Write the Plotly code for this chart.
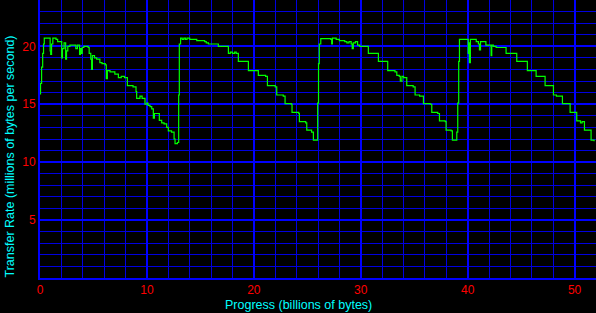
import plotly.graph_objects as go

# Progress (billions of bytes) and transfer rate (millions of bytes per second)
progress = [
    0.00, 0.05, 0.15, 0.25, 0.33, 0.40, 0.95, 1.00, 1.08, 1.20, 1.50, 1.65, 1.95,
    2.03, 2.10, 2.25, 2.40, 2.48, 2.60, 2.80, 3.20, 3.35, 3.50, 3.70, 3.78, 3.85,
    3.95, 4.10, 4.50, 4.60, 4.75, 4.83, 4.90, 5.10, 5.30, 5.60, 5.80, 6.10, 6.20,
    6.30, 6.55, 7.00, 7.33, 7.60, 7.90, 8.17, 8.70, 8.98, 9.04, 9.35, 9.55, 9.82,
    10.00, 10.10, 10.29, 10.45, 10.60, 10.70, 11.16, 11.38, 11.60, 11.85, 12.00,
    12.30, 12.54, 12.63, 12.85, 12.97, 13.03, 13.15,
    13.30, 13.45, 13.60, 13.75, 14.00, 14.66, 15.40, 15.55, 15.75, 16.68, 17.62,
    17.80, 18.00, 18.20, 18.35, 18.55, 19.49, 20.20, 20.42, 21.10, 21.27, 22.00,
    22.14, 22.75, 22.92, 23.50, 23.57, 24.20, 24.26, 24.85, 24.95, 25.40, 25.57,
    25.97, 26.05, 26.12, 26.26,
    27.20, 27.28, 27.35, 27.70, 28.00, 28.50, 28.70, 28.90, 29.10, 29.20, 29.30,
    29.50, 29.70, 29.90, 30.20, 30.71, 31.65, 32.52, 33.20, 33.37, 33.60, 33.70,
    33.85, 34.00, 34.30, 34.90, 35.08, 35.50, 35.86, 36.50, 36.64, 37.20, 37.36,
    37.90, 37.98, 38.45, 38.57, 38.98, 39.07, 39.16, 39.23,
    39.95, 40.05, 40.10, 40.16, 40.25, 40.60, 40.80, 41.00, 41.10, 41.20, 41.50,
    41.70, 42.00, 42.19, 42.25, 42.40, 42.66, 43.59, 44.59, 45.58, 46.40, 47.24,
    48.02, 48.30, 48.86, 49.58, 50.20, 50.55, 50.70, 50.92, 51.54, 51.82,
]
rate = [
    15.9, 16.8, 18.2, 19.4, 20.2, 20.7, 19.6, 19.3, 20.2, 20.7, 20.6, 20.4, 20.4,
    19.0, 19.8, 20.3, 18.9, 19.6, 20.0, 20.1, 20.1, 19.8, 20.1, 19.3, 19.8, 19.4,
    19.9, 20.0, 19.9, 19.4, 18.9, 18.0, 19.2, 19.0, 18.9, 18.6, 18.5, 18.4, 17.2,
    17.9, 17.8, 17.6, 17.3, 17.4, 17.3, 16.6, 16.5, 16.1, 15.5, 15.7, 15.5, 15.0,
    15.1, 14.9, 14.8, 14.6, 13.8, 14.2, 13.6, 13.4, 13.3, 13.0, 12.7,
    12.6, 12.0, 11.6, 11.7, 15.8, 20.2, 20.7,
    20.6, 20.7, 20.6, 20.7, 20.6, 20.5, 20.4, 20.3, 20.2, 20.0, 19.4,
    19.5, 19.4, 19.5, 19.4, 18.7, 17.9, 17.9, 17.5, 17.4, 16.6, 16.5,
    15.8, 15.7, 15.05, 15.0, 14.3, 14.2, 13.5, 13.4, 12.76, 12.6, 11.9,
    15.1, 18.5, 20.2, 20.66,
    20.6, 20.2, 20.7, 20.6, 20.5, 20.4, 20.3, 20.4, 20.2, 19.8, 20.3,
    20.4, 20.1, 20.0, 20.0, 19.4, 18.7, 17.9, 17.8, 17.5, 17.4, 17.0,
    17.4, 17.3, 16.6, 16.5, 15.8, 15.7, 15.05, 15.0, 14.3, 14.2, 13.56,
    13.5, 12.76, 12.7, 11.9, 12.6, 15.1, 18.7, 20.6,
    20.6, 19.4, 20.3, 18.6, 20.6, 20.6, 20.4, 20.2, 19.7, 20.4, 20.4,
    20.1, 20.1, 19.2, 20.1, 20.0, 19.9, 19.4, 18.7, 17.9, 17.4, 16.6,
    15.8, 15.7, 15.05, 14.3, 13.56, 13.4, 13.5, 12.76, 11.9, 11.8,
]

x_ticks = [0, 10, 20, 30, 40, 50]
y_ticks = [5, 10, 15, 20]

W, H = 596, 313
ML, MB = 40, 35

fig = go.Figure()
fig.add_trace(go.Scatter(
    x=progress, y=rate, mode="lines", line_shape="hv",
    line=dict(color="#00ff00", width=1.2), hoverinfo="skip", showlegend=False,
))

tick_font = dict(family="Liberation Sans", size=12, color="#ff0000")
title_font = dict(family="Liberation Sans", size=12.5, color="#00ffff")

fig.update_layout(
    width=W, height=H,
    margin=dict(l=ML, r=0, t=0, b=MB, pad=0),
    paper_bgcolor="#000000", plot_bgcolor="#000000",
    xaxis=dict(
        range=[0, 52], tickvals=x_ticks, ticktext=[str(v) for v in x_ticks],
        showgrid=True, gridcolor="#0000ff", gridwidth=2,
        minor=dict(dtick=2, tick0=0, showgrid=True, gridcolor="#0000e0", gridwidth=1),
        showline=True, linecolor="#0000ff", linewidth=2,
        ticks="", tickfont=tick_font, zeroline=False, fixedrange=True,
    ),
    yaxis=dict(
        range=[0, 24], tickvals=y_ticks, ticktext=[str(v) for v in y_ticks],
        showgrid=True, gridcolor="#0000ff", gridwidth=2,
        minor=dict(dtick=1, tick0=0, showgrid=True, gridcolor="#0000e0", gridwidth=1),
        showline=True, linecolor="#0000ff", linewidth=2,
        ticks="", tickfont=tick_font, zeroline=False, fixedrange=True,
    ),
    annotations=[
        dict(text="Progress (billions of bytes)", xref="paper", yref="paper",
             x=(W / 2 - ML) / (W - ML), y=-(305 - (H - MB)) / (H - MB),
             xanchor="center", yanchor="middle", showarrow=False, font=title_font),
        dict(text="Transfer Rate (millions of bytes per second)", xref="paper", yref="paper",
             x=(9 - ML) / (W - ML), y=((H - MB) - H / 2) / (H - MB),
             xanchor="center", yanchor="middle", textangle=-90, showarrow=False,
             font=title_font),
    ],
)

fig.write_html("out.html")
